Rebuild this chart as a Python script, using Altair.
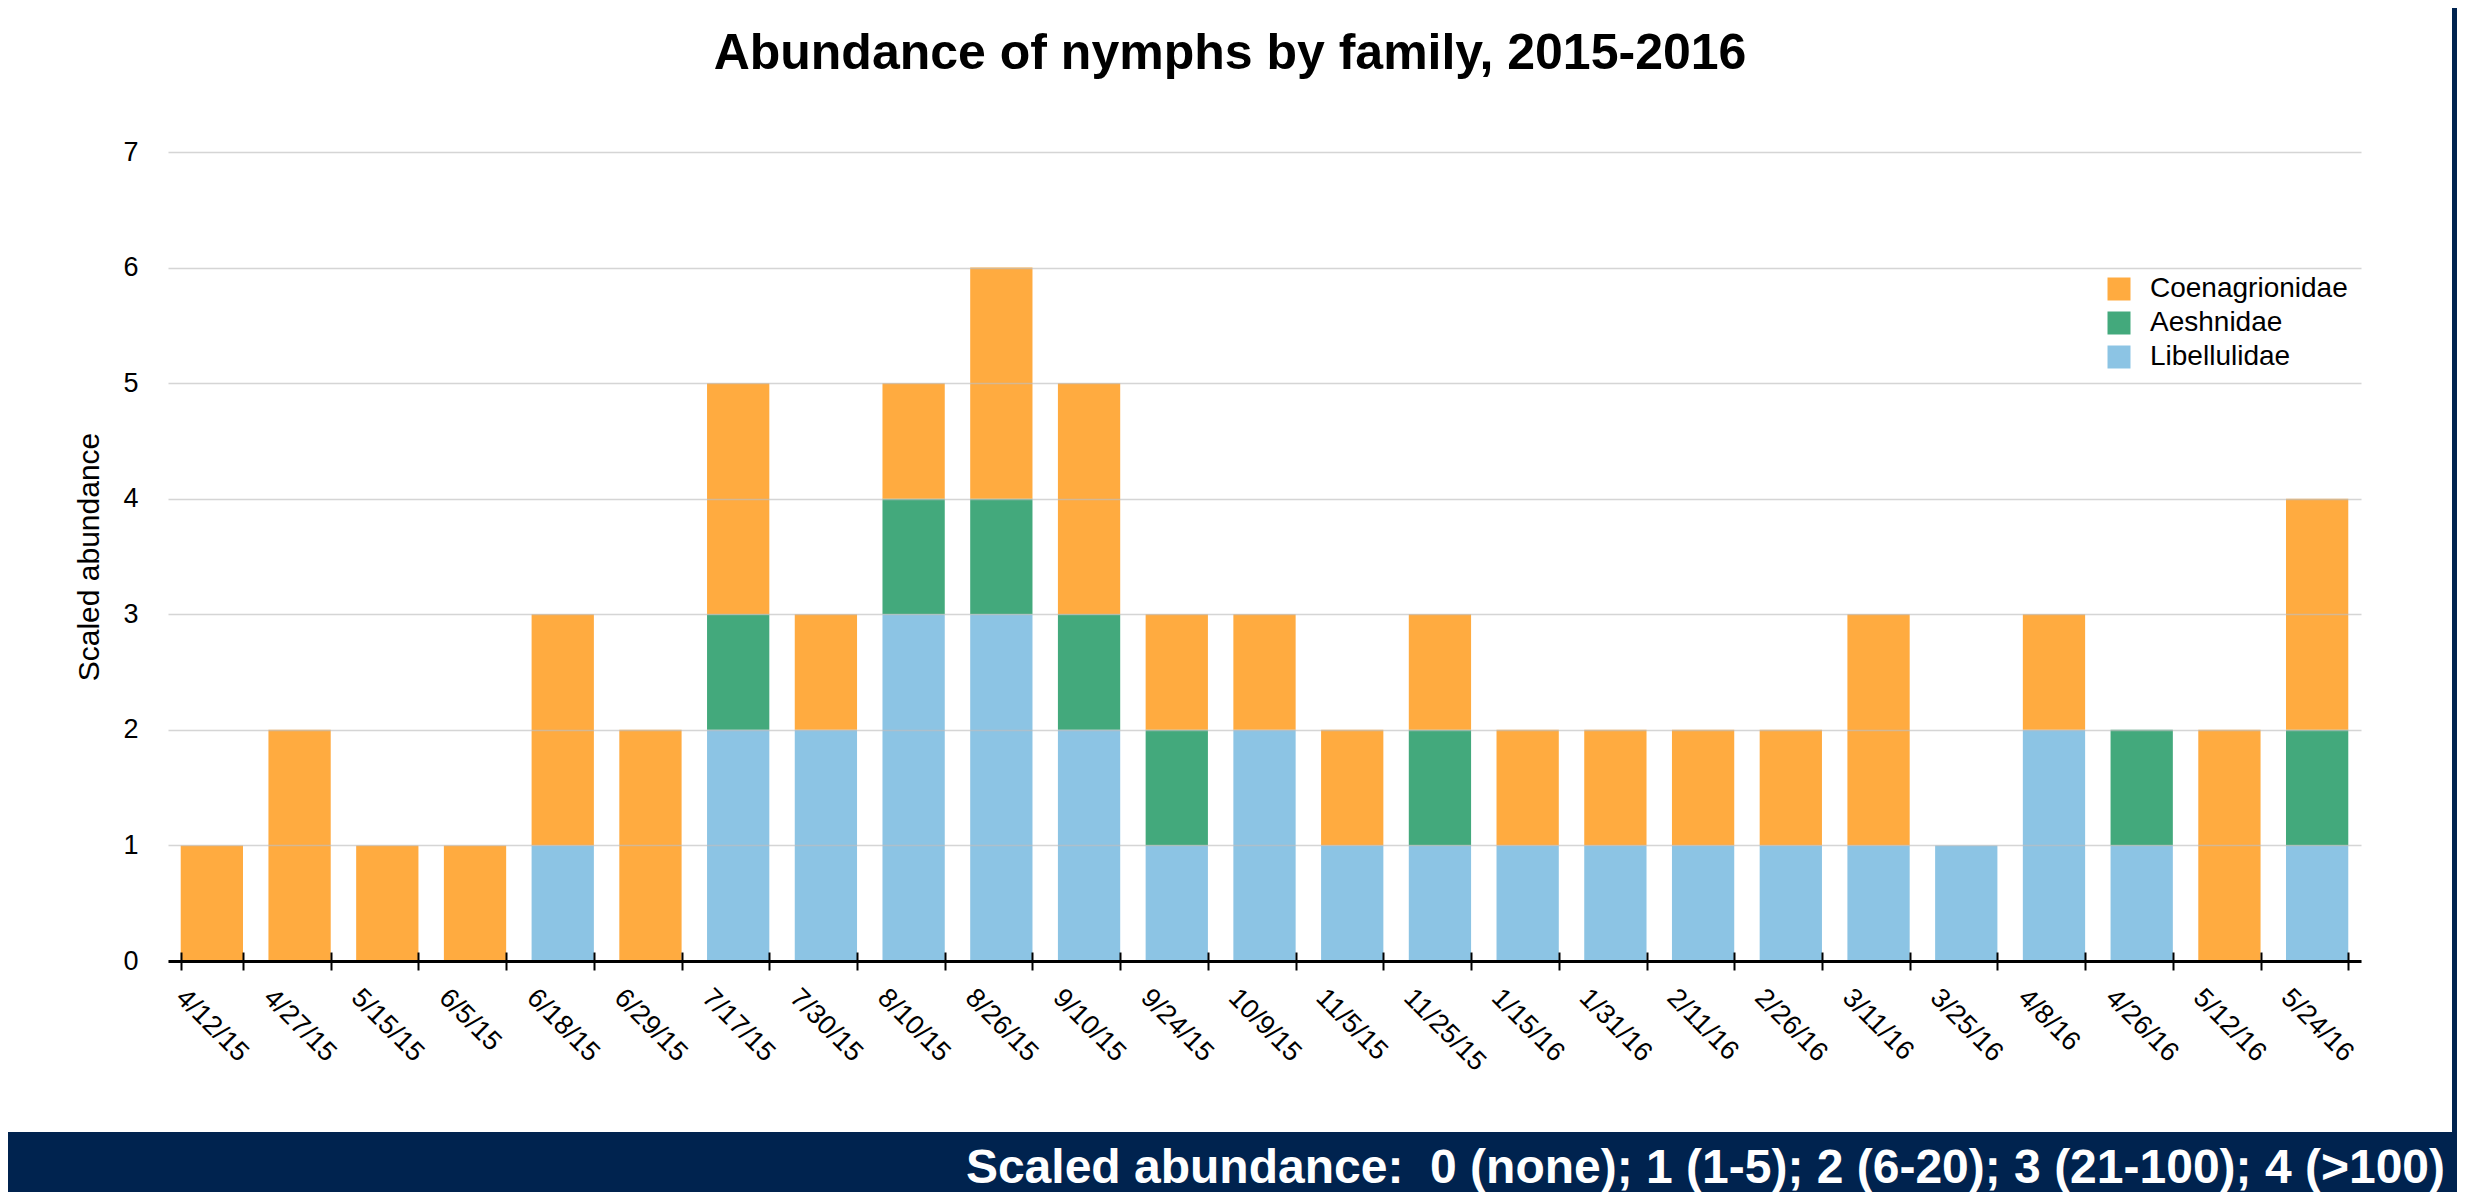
import altair as alt
import pandas as pd

dates = ["4/12/15", "4/27/15", "5/15/15", "6/5/15", "6/18/15", "6/29/15", "7/17/15",
         "7/30/15", "8/10/15", "8/26/15", "9/10/15", "9/24/15", "10/9/15", "11/5/15",
         "11/25/15", "1/15/16", "1/31/16", "2/11/16", "2/26/16", "3/11/16", "3/25/16",
         "4/8/16", "4/26/16", "5/12/16", "5/24/16"]
libellulidae = [0, 0, 0, 0, 1, 0, 2, 2, 3, 3, 2, 1, 2, 1, 1, 1, 1, 1, 1, 1, 1, 2, 1, 0, 1]
aeshnidae = [0, 0, 0, 0, 0, 0, 1, 0, 1, 1, 1, 1, 0, 0, 1, 0, 0, 0, 0, 0, 0, 0, 1, 0, 1]
coenagrionidae = [1, 2, 1, 1, 2, 2, 2, 1, 1, 2, 2, 1, 1, 1, 1, 1, 1, 1, 1, 2, 0, 1, 0, 2, 2]

families = ["Coenagrionidae", "Aeshnidae", "Libellulidae"]
family_colors = ["#FFAB40", "#43A97C", "#8CC4E4"]
y_ticks = [0, 1, 2, 3, 4, 5, 6, 7]

title_text = "Abundance of nymphs by family, 2015-2016"
y_title = "Scaled abundance"
caption_text = "Scaled abundance:\u00a0\u00a00 (none); 1 (1-5); 2 (6-20); 3 (21-100); 4 (>100)"

NAVY = "#00234F"
FONT = "Liberation Sans"
W, H = 2193, 809

series = {"Libellulidae": libellulidae, "Aeshnidae": aeshnidae, "Coenagrionidae": coenagrionidae}
stack_rank = {"Libellulidae": 0, "Aeshnidae": 1, "Coenagrionidae": 2}
rows = []
for fam, vals in series.items():
    for d, v in zip(dates, vals):
        if v > 0:
            rows.append({"date": d, "family": fam, "value": v, "rank": stack_rank[fam]})
df = pd.DataFrame(rows)
one = pd.DataFrame({"k": [0]})

# white panel behind the chart (decoration)
panel = alt.Chart(one).mark_rect(color="white").encode(
    x=alt.value(-160), x2=alt.value(2284), y=alt.value(-144), y2=alt.value(980)
)

bars = alt.Chart(df).mark_bar(opacity=1).encode(
    x=alt.X("date:N", sort=dates,
            scale=alt.Scale(paddingInner=0.29, paddingOuter=0.145),
            axis=alt.Axis(title=None, labelAngle=45, labelAlign="left", labelBaseline="top",
                          labelFont=FONT, labelFontSize=27, labelColor="black",
                          labelPadding=14, labelOffset=-23, labelOverlap=False,
                          domain=True, domainColor="black", domainWidth=3,
                          ticks=True, tickColor="black", tickWidth=2, tickSize=9,
                          tickBand="extent", grid=False, zindex=2)),
    y=alt.Y("value:Q", stack="zero",
            scale=alt.Scale(domain=[0, 7], nice=False),
            axis=alt.Axis(title=y_title, values=y_ticks, titleFont=FONT, titleFontSize=30,
                          titleFontWeight="normal", titleColor="black", titlePadding=18,
                          labelFont=FONT, labelFontSize=27, labelColor="black", labelPadding=30,
                          domain=False, ticks=False, grid=True, gridColor="#bfbfbf",
                          gridOpacity=0.65, gridWidth=1.5, zindex=1)),
    color=alt.Color("family:N", scale=alt.Scale(domain=families, range=family_colors),
                    legend=alt.Legend(title=None, orient="none", legendX=1937, legendY=123,
                                      symbolType="square", symbolSize=529, symbolStrokeWidth=0,
                                      symbolOpacity=1, labelFont=FONT, labelFontSize=28,
                                      labelColor="black", labelOffset=17, rowPadding=6,
                                      labelLimit=0, zindex=2)),
    order=alt.Order("rank:Q", sort="ascending"),
)

# upper half of the crossing tick marks
upper_ticks = alt.Chart(df).mark_point(opacity=0).encode(
    x=alt.X("date:N", sort=dates,
            axis=alt.Axis(orient="bottom", offset=-9, title=None, labels=False, domain=False,
                          ticks=True, tickColor="black", tickWidth=2, tickSize=9,
                          tickBand="extent", grid=False, zindex=2)),
    y=alt.value(H / 2),
)

title = alt.Chart(one).mark_text(
    text=title_text, font=FONT, fontSize=50, fontWeight="bold", color="black",
    align="center", baseline="alphabetic"
).encode(x=alt.value(1062), y=alt.value(-83))

caption = alt.Chart(one).mark_text(
    text=caption_text, font=FONT, fontSize=48, fontWeight="bold", color="white",
    align="right", baseline="alphabetic"
).encode(x=alt.value(2277), y=alt.value(1031))

chart = alt.layer(panel, bars, upper_ticks, title, caption).resolve_axis(
    x="independent"
).properties(
    width=W, height=H,
    autosize=alt.AutoSizeParams(type="none"),
    padding={"left": 160, "top": 144, "right": 96, "bottom": 231},
    background=NAVY,
).configure_view(stroke=None)

chart.save("out.html", embed_options={"renderer": "svg", "actions": False})
